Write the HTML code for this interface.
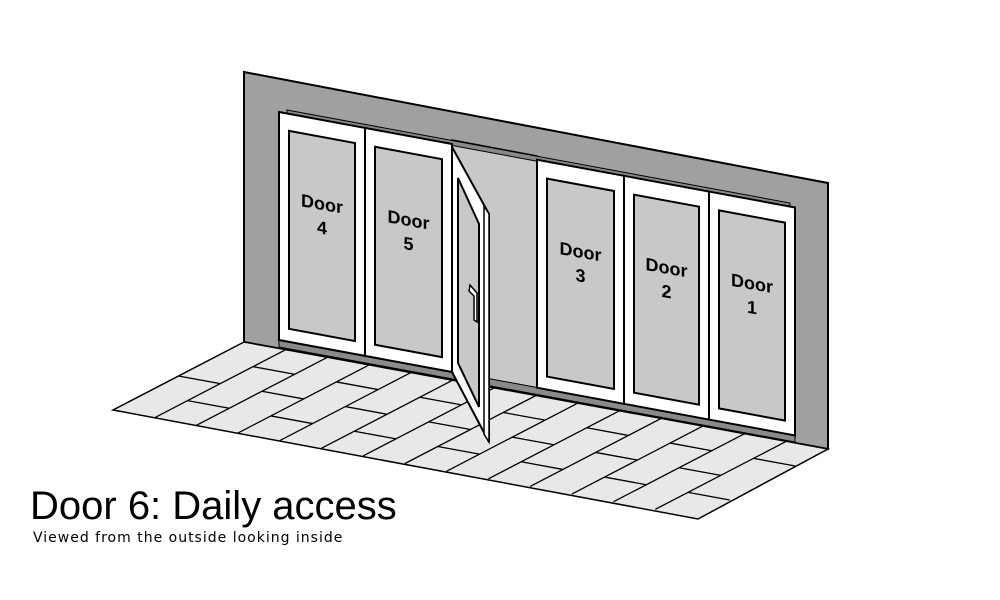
<!DOCTYPE html>
<html><head><meta charset="utf-8"><style>
html,body{margin:0;padding:0;background:#fff;width:1000px;height:600px;overflow:hidden}
svg{display:block}
.lbl{font-family:"Liberation Sans",sans-serif;font-weight:bold;font-size:18px;fill:#000;text-anchor:middle}
</style></head><body>
<svg id="s" width="1000" height="600" viewBox="0 0 1000 600" xmlns="http://www.w3.org/2000/svg">
<polygon points="244,72 828,183 828,449 244,342" fill="#a0a0a0" stroke="#000" stroke-width="2"/>
<polygon points="452,140 537,156 537,388 452,372" fill="#c8c8c8" stroke="#000" stroke-width="1.5"/>
<polygon points="287,110 790,203 790,208 287,115" fill="#888" stroke="#000" stroke-width="1"/>
<polygon points="279,340 795,435 795,442 279,347" fill="#8a8a8a" stroke="#000" stroke-width="1"/>
<g id="floor"><polygon points="244,342 828,449 698,519 113,410" fill="#e8e8e8" stroke="#000" stroke-width="1.5"/></g>
<g id="doors"></g>
<polygon points="452,147 489,214 489,442 452,372" fill="#fff" stroke="#000" stroke-width="2"/>
<polygon points="484,206 489,214 489,442 484,434" fill="#fff" stroke="#000" stroke-width="1.5"/>
<polygon points="458,178 479,224 479,407 458,363" fill="#c8c8c8" stroke="#000" stroke-width="2"/>
<polygon points="470,285 477,293 477,322 474,320 474,296 469,291" fill="#fff" stroke="#000" stroke-width="1.5"/>
<text x="30" y="519" font-family="Liberation Sans, sans-serif" font-size="40" fill="#000">Door 6: Daily access</text>
<text x="33" y="542" font-family="DejaVu Sans, sans-serif" font-size="14" letter-spacing="1" fill="#000">Viewed from the outside looking inside</text>
</svg>
<script>
var ns="http://www.w3.org/2000/svg";
function el(p,t,a){var e=document.createElementNS(ns,t);for(var k in a)e.setAttribute(k,a[k]);p.appendChild(e);return e;}
var fl=document.getElementById('floor');
var B=[244,342],U=[584/14,107/14],V=[-131/4,68/4];
function P(u,v){return [B[0]+u*U[0]+v*V[0],B[1]+u*U[1]+v*V[1]];}
function L(a,b){el(fl,'line',{x1:a[0],y1:a[1],x2:b[0],y2:b[1],stroke:'#000','stroke-width':1.3});}
for(var u=1;u<14;u++)L(P(u,0),P(u,4));
for(var c=0;c<14;c++){
  if(c%2==0){L(P(c,2),P(c+1,2));}
  else{L(P(c,1),P(c+1,1));L(P(c,3),P(c+1,3));}
}
var d=document.getElementById('doors');
var k=0.185;
function yt(x){return 112+k*(x-279);}
function yb(x){return 340+k*(x-279);}
var doors=[[279,365,'4'],[365,452,'5'],[537,624,'3'],[624,709,'2'],[709,795,'1']];
doors.forEach(function(dd){
  var a=dd[0],b=dd[1];
  el(d,'polygon',{points:[a,yt(a),b,yt(b),b,yb(b),a,yb(a)].join(' '),fill:'#fff',stroke:'#000','stroke-width':2});
  var ga=a+10,gb=b-10;
  el(d,'polygon',{points:[ga,yt(ga)+17,gb,yt(gb)+17,gb,yb(gb)-13,ga,yb(ga)-13].join(' '),fill:'#c8c8c8',stroke:'#000','stroke-width':2});
  var cx=(a+b)/2,cy=(yt(cx)+yb(cx))/2-24;
  var g=el(d,'g',{transform:'translate('+cx+','+cy+') skewY(10)'});
  var t=el(g,'text',{x:0,y:0,'class':'lbl'});t.textContent='Door';
  var t2=el(g,'text',{x:0,y:24,'class':'lbl'});t2.textContent=dd[2];
});
</script>
</body></html>
